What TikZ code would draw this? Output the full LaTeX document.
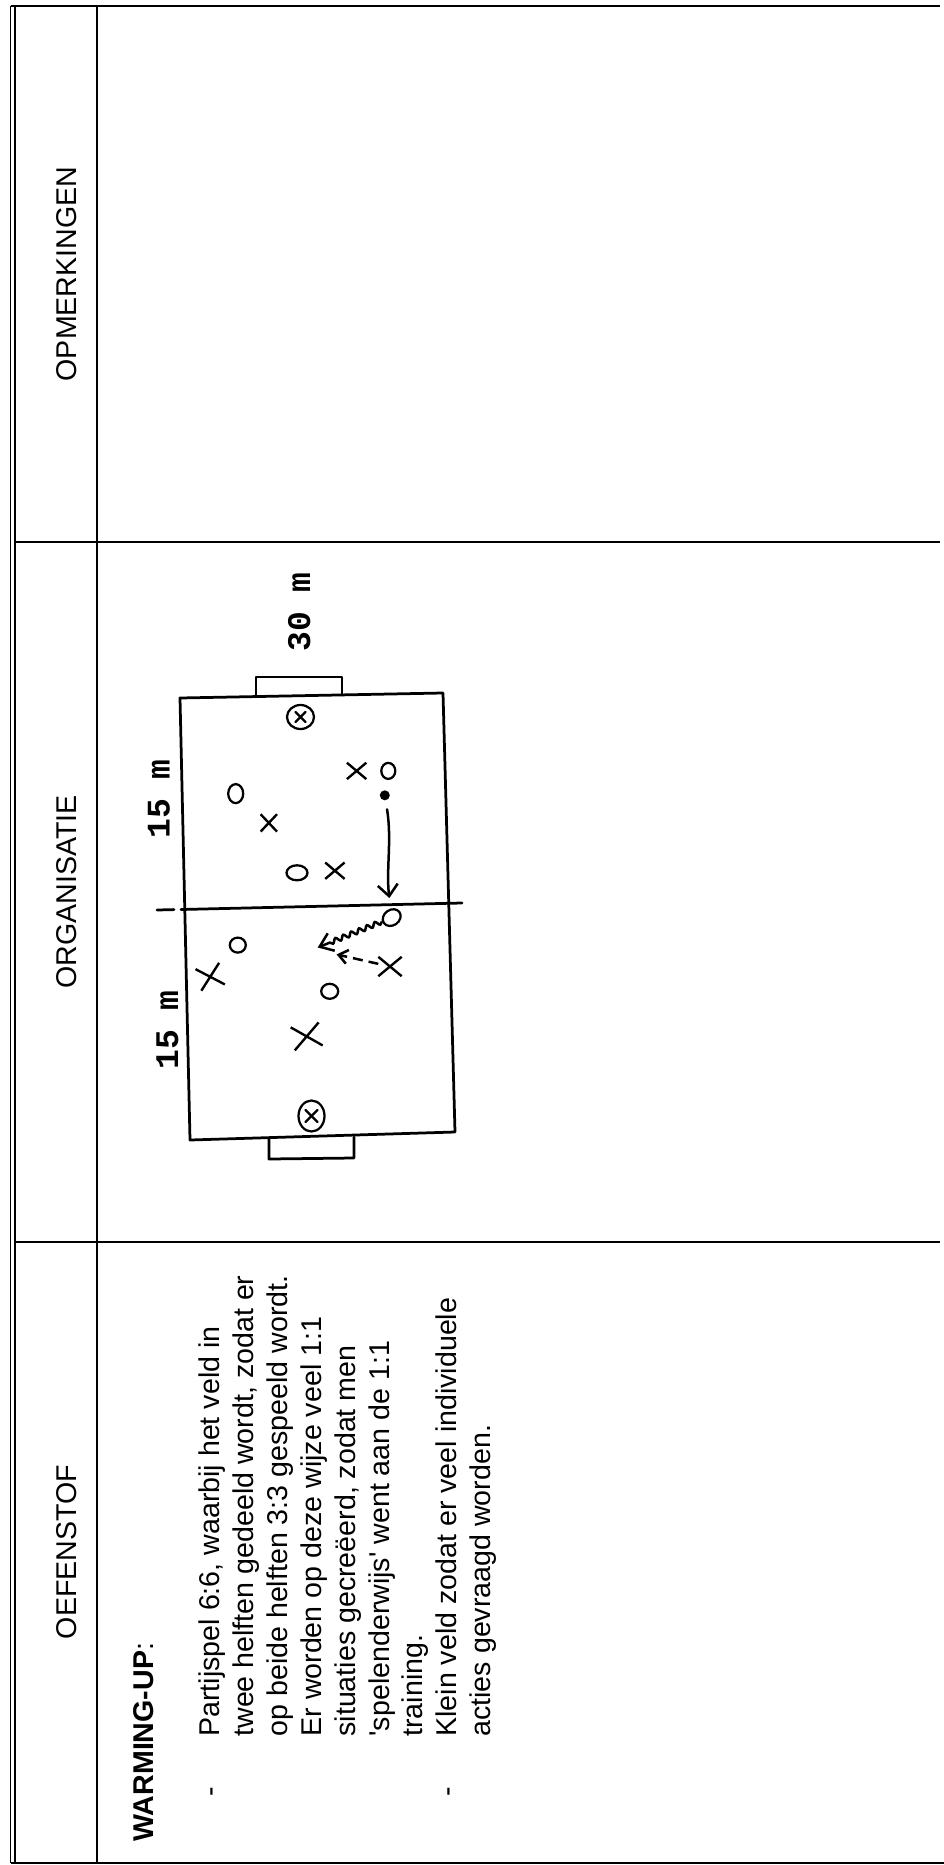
\documentclass[tikz,border=0pt]{standalone}
\usepackage{fontspec}
\setmainfont{Liberation Sans}
\newfontfamily\handfont{Liberation Mono}
\usetikzlibrary{shapes.geometric,shapes.misc,arrows.meta,decorations.pathmorphing}
\tikzset{
  rule/.style={line width=0.6pt},
  txt/.style={font=\fontsize{11.44pt}{13.6pt}\selectfont},
  body/.style={txt, rotate=90, anchor=base west, inner sep=0pt},
  head/.style={txt, rotate=90, anchor=base, inner sep=0pt},
  dimlabel/.style={rotate=90, anchor=base west, inner sep=0pt,
    font=\handfont\bfseries\fontsize{13.2pt}{14pt}\selectfont},
  pitch/.style={line width=1.1pt, line join=round, line cap=round},
  plo/.style={ellipse, draw, line width=0.9pt, inner sep=0pt},
  plx/.style={cross out, draw, line width=0.95pt, inner sep=0pt},
  markline/.style={line width=0.9pt, line cap=round},
  mv/.style={line width=1pt, line cap=round, -{Straight Barb[length=4.6pt,width=8pt]}},
}
\begin{document}
\begin{tikzpicture}[x=0.4pt,y=-0.4pt]
\useasboundingbox (0,0) rectangle (944,1865);
\fill[white] (0,0) rectangle (944,1865);

% ---- table rules ----
\draw[rule] (10.5,6) -- (10.5,1863);
\draw[rule] (15,6) -- (15,1863);
\draw[rule] (10.5,6) -- (940,6);
\draw[rule] (10.5,1863) -- (944,1863);
\draw[rule] (97,6) -- (97,1863);
\draw[rule] (15,542) -- (940,542);
\draw[rule] (15,1242) -- (940,1242);

% ---- headers ----
\node[head] (hopm) at (76,274) {OPMERKINGEN};
\node[head] (horg) at (76,892) {ORGANISATIE};
\node[head] (hoef) at (76,1552) {OEFENSTOF};

% ---- exercise text ----
\node[body] (wu) at (153,1842) {\textbf{WARMING-UP}:};
\node[body] (bul1) at (219,1797) {-};
\node[body] (l1) at (219,1737) {Partijspel 6:6, waarbij het veld in};
\node[body] (l2) at (253,1737) {twee helften gedeeld wordt, zodat er};
\node[body] (l3) at (287,1737) {op beide helften 3:3 gespeeld wordt.};
\node[body] (l4) at (321,1737) {Er worden op deze wijze veel 1:1};
\node[body] (l5) at (355,1737) {situaties gecreëerd, zodat men};
\node[body] (l6) at (389,1737) {\textquotesingle spelenderwijs\textquotesingle{} went aan de 1:1};
\node[body] (l7) at (422,1737) {training.};
\node[body] (bul2) at (456,1797) {-};
\node[body] (l8) at (456,1737) {Klein veld zodat er veel individuele};
\node[body] (l9) at (490,1737) {acties gevraagd worden.};

% ---- pitch ----
\coordinate (fTL) at (180,698);
\coordinate (fTR) at (443,693);
\coordinate (fBR) at (455,1132);
\coordinate (fBL) at (190,1140);
\draw[pitch] (fTL) -- (fTR) -- (fBR) -- (fBL) -- cycle;
\draw[pitch] (256,697) -- (256,677) -- (342,677) -- (342,695);
\draw[pitch] (269,1139) -- (269,1159) -- (354,1158) -- (354,1137);
\draw[pitch] (157,910) -- (174,909.6);
\draw[pitch] (181,909.5) -- (462,903);

% ---- dimensions ----
\node[dimlabel] (d15a) at (169.6,839) {15 m};
\node[dimlabel] (d15b) at (178,1070) {15 m};
\node[dimlabel] (d30) at (310,652) {30 m};

% ---- keepers ----
\node[plo, minimum width=10.8pt, minimum height=9.6pt] (k1) at (300.5,717) {};
\draw[markline] ([shift={(-5,-5)}]k1.center) -- ([shift={(5,5)}]k1.center);
\draw[markline] ([shift={(-5,5)}]k1.center) -- ([shift={(5,-5)}]k1.center);
\node[plo, minimum width=10.4pt, minimum height=12.4pt] (k2) at (311.5,1116) {};
\draw[markline] ([shift={(-6,-6)}]k2.center) -- ([shift={(6,6)}]k2.center);
\draw[markline] ([shift={(-6,6)}]k2.center) -- ([shift={(6,-6)}]k2.center);

% ---- players O ----
\node[plo, minimum width=6pt, minimum height=7.6pt] (o1) at (235.7,793.6) {};
\node[plo, minimum width=8.4pt, minimum height=6pt] (o2) at (297,872.8) {};
\node[plo, minimum width=5.6pt, minimum height=6.4pt] (o3) at (388.3,770.9) {};
\node[plo, minimum width=7.6pt, minimum height=6.2pt, rotate=35] (o4) at (391.7,917.6) {};
\node[plo, minimum width=6.4pt, minimum height=6pt] (o5) at (237.8,945.1) {};
\node[plo, minimum width=6.8pt, minimum height=6pt] (o6) at (329.7,991.3) {};

% ---- players X ----
\node[plx, minimum width=5.6pt, minimum height=6pt] (x1) at (268.8,822.9) {};
\node[plx, minimum width=6.8pt, minimum height=5.6pt] (x2) at (334.9,870.7) {};
\node[plx, minimum width=6.8pt, minimum height=5.6pt] (x3) at (356.6,770.9) {};
\node[plx, minimum width=8.4pt, minimum height=6.8pt] (x4) at (390,966.5) {};
\node[plx, minimum width=8.8pt, minimum height=8pt, rotate=15] (x5) at (210.2,976.8) {};
\node[plx, minimum width=10.4pt, minimum height=8.4pt, rotate=10] (x6) at (306.7,1036.4) {};

% ---- ball and moves ----
\node[circle, fill, inner sep=0pt, minimum size=4pt] (ball) at (384.8,795.3) {};
\coordinate (dribEnd) at (317.7,947.5);
\coordinate (runEnd) at (336.6,954.4);
\draw[mv, shorten <=3.5pt, shorten >=4.2pt] (ball) .. controls (392,840) and (386,870) .. (o4);
\draw[line width=1pt, -{Straight Barb[length=5pt,width=7.5pt]},
      decorate, decoration={snake, amplitude=0.9pt, segment length=3.4pt, post length=4pt}]
      (o4) -- (dribEnd);
\draw[line width=1pt, dash pattern=on 4pt off 2.4pt, -{Straight Barb[length=3.6pt,width=5.6pt]}]
      (x4) -- (runEnd);
\end{tikzpicture}
\end{document}
